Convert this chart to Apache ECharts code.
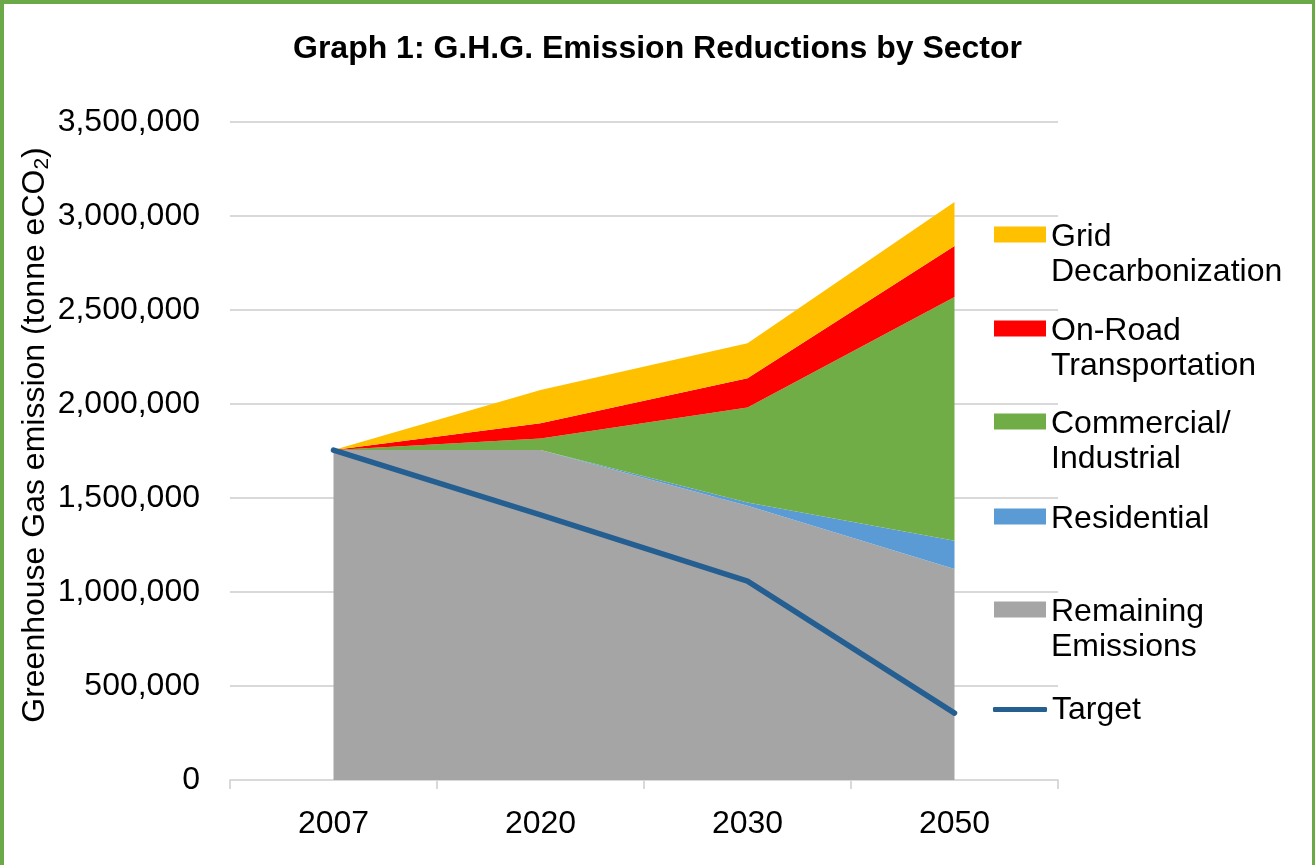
<!DOCTYPE html>
<html>
<head>
<meta charset="utf-8">
<script src="https://cdn.jsdelivr.net/npm/echarts@6/dist/echarts.min.js"></script>
<style>
html,body{margin:0;padding:0;background:#fff;}
#frame{position:absolute;left:0;top:0;width:1315px;height:865px;box-sizing:border-box;border-left:4px solid #6BA847;border-top:4px solid #6BA847;border-right:3px solid #6BA847;}
#chart{position:absolute;left:0;top:0;width:1315px;height:865px;}
</style>
</head>
<body>
<div id="chart"></div>
<div id="frame"></div>
<script>
const categories = ['2007', '2020', '2030', '2050'];
const remaining = [1755000, 1755000, 1459000, 1122000];
const residential = [0, 0, 17000, 151000];
const commercial = [0, 62000, 506000, 1296000];
const onRoad = [0, 80000, 155000, 271000];
const gridDecarb = [0, 177000, 186000, 234000];
const target = [1755000, 1410000, 1058000, 356000];
const yTicks = { min: 0, max: 3500000, interval: 500000 };

const FONT = 'Liberation Sans, Arial, sans-serif';
const FS = 32;
const names = {
  grid: 'Grid\nDecarbonization',
  road: 'On-Road\nTransportation',
  comm: 'Commercial/\nIndustrial',
  res: 'Residential',
  rem: 'Remaining\nEmissions',
  tgt: 'Target'
};
const colors = {
  grid: '#FFC000', road: '#FF0000', comm: '#70AD47', res: '#5B9BD5', rem: '#A5A5A5', tgt: '#255E91'
};

function areaSeries(name, data, color, z) {
  return {
    name: name, type: 'line', stack: 'total', data: data,
    symbol: 'none', showSymbol: false, smooth: false,
    lineStyle: { width: 0, color: color },
    itemStyle: { color: color },
    areaStyle: { color: color, opacity: 1 },
    z: z, silent: true
  };
}

function legendItem(name, color, symCenter, twoLine, isLine) {
  const L = 35, B = 41, P = isLine ? 2 : 6;
  const top = twoLine ? symCenter - (B + 2 * L) / 2 + 4 : symCenter - (L + P) / 2 + (isLine ? 0 : 2);
  return {
    data: [{ name: name, icon: isLine ? 'roundRect' : 'rect' }],
    left: isLine ? 993 : 994,
    top: top,
    padding: 0,
    itemWidth: isLine ? 54 : 52,
    itemHeight: isLine ? 5 : 16,
    itemGap: 0,
    selectedMode: false,
    itemStyle: { color: color },
    formatter: function (n) {
      if (twoLine) {
        return '{b| }\n' + n.split('\n').map(function (s) { return '{a|' + s + '}'; }).join('\n');
      }
      return '{c|' + n + '}';
    },
    textStyle: {
      fontFamily: FONT, fontSize: FS, color: '#000',
      rich: {
        a: { fontFamily: FONT, fontSize: FS, color: '#000', lineHeight: L },
        b: { fontFamily: FONT, fontSize: FS, color: '#000', lineHeight: B },
        c: { fontFamily: FONT, fontSize: FS, color: '#000', lineHeight: L, padding: [P, 0, 0, 0] }
      }
    }
  };
}

const chart = echarts.init(document.getElementById('chart'), null, { renderer: 'canvas' });
chart.setOption({
  animation: false,
  backgroundColor: '#fff',
  title: {
    text: 'Graph 1: G.H.G. Emission Reductions by Sector',
    left: 'center', top: 28,
    textStyle: { fontFamily: FONT, fontSize: 32, fontWeight: 'bold', color: '#000' }
  },
  grid: { left: 230, right: 1315 - 1058, top: 122, bottom: 865 - 780, containLabel: false, outerBoundsMode: 'none' },
  legend: [
    legendItem(names.grid, colors.grid, 235, true, false),
    legendItem(names.road, colors.road, 329, true, false),
    legendItem(names.comm, colors.comm, 422, true, false),
    legendItem(names.res, colors.res, 516, false, false),
    legendItem(names.rem, colors.rem, 610, true, false),
    legendItem(names.tgt, colors.tgt, 711, false, true)
  ],
  xAxis: {
    type: 'category', data: categories, boundaryGap: true,
    axisLine: { show: true, lineStyle: { color: '#D9D9D9', width: 2 } },
    axisTick: { show: true, length: 9, lineStyle: { color: '#D9D9D9', width: 2 } },
    axisLabel: { fontFamily: FONT, fontSize: FS, color: '#000', margin: 28 },
    splitLine: { show: false }
  },
  yAxis: {
    type: 'value', min: yTicks.min, max: yTicks.max, interval: yTicks.interval,
    name: '{t|Greenhouse Gas emission (tonne eCO}{s|2}{t|)}',
    nameLocation: 'middle', nameGap: 177, nameRotate: 90,
    nameMoveOverlap: false,
    nameTextStyle: {
      rich: {
        t: { fontFamily: FONT, fontSize: FS, color: '#000' },
        s: { fontFamily: FONT, fontSize: 21, color: '#000', padding: [14, 0, 0, 0] }
      },
      padding: [0, 0, 0, 32]
    },
    axisLine: { show: false },
    axisTick: { show: false },
    axisLabel: {
      fontFamily: FONT, fontSize: FS, color: '#000', margin: 30,
      formatter: function (v) { return v.toLocaleString('en-US'); }
    },
    splitLine: { show: true, lineStyle: { color: '#D9D9D9', width: 2 } }
  },
  series: [
    areaSeries(names.rem, remaining, colors.rem, 2),
    areaSeries(names.res, residential, colors.res, 2),
    areaSeries(names.comm, commercial, colors.comm, 2),
    areaSeries(names.road, onRoad, colors.road, 2),
    areaSeries(names.grid, gridDecarb, colors.grid, 2),
    {
      name: names.tgt, type: 'line', data: target,
      symbol: 'none', showSymbol: false,
      lineStyle: { color: colors.tgt, width: 5.5, cap: 'round', join: 'round' },
      itemStyle: { color: colors.tgt },
      z: 5, silent: true
    }
  ]
});
</script>
</body>
</html>
